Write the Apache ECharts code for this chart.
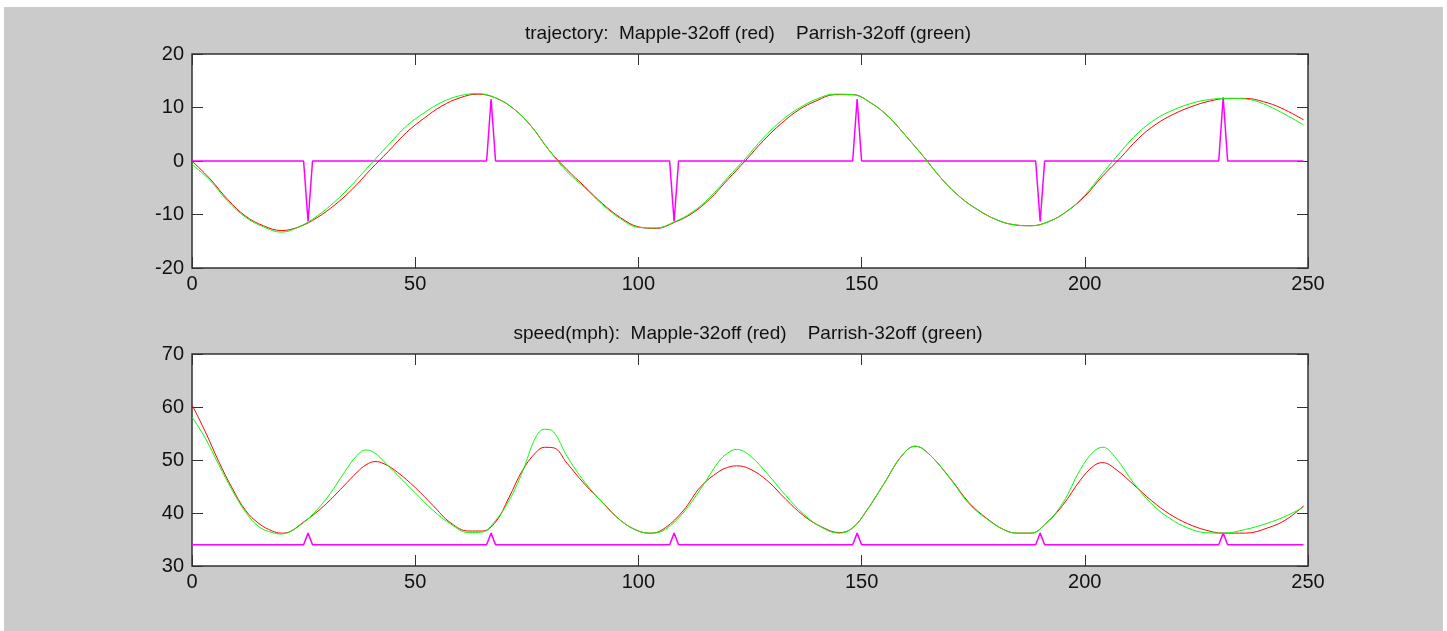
<!DOCTYPE html>
<html>
<head>
<meta charset="utf-8">
<script src="https://cdn.jsdelivr.net/npm/echarts@6/dist/echarts.min.js"></script>
<style>
html,body{margin:0;padding:0;background:#fff;}
#chart{width:1447px;height:631px;}
</style>
</head>
<body>
<div id="chart"></div>
<script>
// ---- titles / ticks ----
const trajTitle = 'trajectory:  Mapple-32off (red)    Parrish-32off (green)';
const speedTitle = 'speed(mph):  Mapple-32off (red)    Parrish-32off (green)';
const xTicks = [0, 50, 100, 150, 200, 250];
const trajTicks = [-20, -10, 0, 10, 20];
const speedTicks = [30, 40, 50, 60, 70];

// ---- trajectory (top) ----
const trajX = [0,4,8,12,16,20,24,28,32,36,40,44,48,52,56,60,64,68,72,76,80,84,88,92,96,100,104,108,112,116,120,124,128,132,136,140,144,148,152,156,160,164,168,172,176,180,184,188,192,196,200,204,208,212,216,220,224,228,232,236,240,244,249];
const trajGreen = [-0.6,-3.6,-7.5,-10.5,-12.3,-13.3,-12.3,-10.3,-7.6,-4.3,-0.6,3.0,6.5,9.0,11.0,12.2,12.6,11.8,9.8,6.5,2.0,-2.0,-5.0,-8.2,-10.8,-12.4,-12.5,-11.4,-9.6,-6.8,-3.1,0.5,4.3,7.5,9.9,11.6,12.5,12.4,10.9,8.3,4.6,0.7,-3.4,-6.7,-9.1,-10.9,-11.9,-12.1,-11.3,-9.4,-6.4,-2.3,1.7,5.3,7.9,9.6,10.8,11.5,11.7,11.6,10.7,9.1,6.75];
const trajRed = [0,-3.3,-7.2,-10.3,-12.1,-13.0,-12.3,-10.6,-8.2,-5.2,-1.6,1.8,5.3,8.0,10.3,11.8,12.5,11.8,9.8,6.5,2.0,-1.6,-4.8,-8.0,-10.6,-12.3,-12.6,-11.5,-9.8,-7.1,-3.5,0.1,3.8,7.0,9.6,11.3,12.4,12.4,10.9,8.3,4.6,0.7,-3.4,-6.7,-9.1,-10.9,-11.9,-12.1,-11.3,-9.4,-6.6,-2.8,0.6,4.2,6.9,8.8,10.2,11.2,11.7,11.7,11.1,9.9,7.7];
// magenta event markers
const eventIdx = [26, 67, 108, 149, 190, 231];
const trajEventVal = [-11.3, 11.6, -11.3, 11.6, -11.3, 11.9];
const trajBase = 0;

// ---- speed (bottom) ----
const speedX = [0,3,6,9,12,15,18,20,22,25,28,31,34,37,39,41,43,46,50,54,58,62,65,68,71,74,77,79,81,84,88,92,96,100,103,106,110,114,118,120,122,125,129,133,137,141,145,148,151,155,159,162,165,170,174,178,182,185,188,191,195,199,202,204,207,211,215,219,223,227,231,236,241,245,249];
const speedGreen = [58.1,54.1,49.1,44.3,40.2,37.4,36.3,36.05,36.5,38.2,40.6,43.7,47.5,50.9,51.9,51.3,49.7,47.2,43.8,40.5,37.9,36.3,36.4,38.6,42.3,47.7,54.3,55.8,55.3,50.7,45.8,41.9,38.6,36.6,36.2,36.9,40.0,44.6,49.7,51.3,52.0,50.8,47.3,43.3,39.8,37.3,36.2,37.2,40.3,45.5,50.8,52.6,51.2,46.3,41.8,38.9,36.8,36.2,36.2,37.8,41.8,48.2,51.6,52.4,50.3,45.6,41.7,39.0,37.2,36.3,36.2,36.9,38.1,39.4,41.1];
const speedRed = [60.4,55.3,49.7,44.7,40.5,38.0,36.6,36.2,36.5,38.3,40.2,42.5,45.1,47.7,49.1,49.7,49.3,47.7,44.8,41.4,38.1,36.6,36.6,38.3,42.9,48.0,51.4,52.4,52.3,49.4,45.4,42.0,38.6,36.6,36.2,37.2,40.4,45.0,47.8,48.6,48.9,48.3,46.0,42.6,39.5,37.4,36.3,37.2,40.3,45.5,50.8,52.6,51.2,46.4,42.0,39.0,36.8,36.2,36.2,37.8,41.4,46.2,48.9,49.5,48.2,45.3,42.3,39.8,38.0,36.8,36.2,36.2,37.2,38.7,41.3];
const speedEventVal = [36.2, 36.2, 36.2, 36.2, 36.2, 36.2];
const speedBase = 34;
const xEnd = 249;

// ---- build ----
function pairs(xs, ys) { return xs.map((x, i) => [x, ys[i]]); }
function eventLine(idx, vals, base) {
  const out = [[0, base]];
  idx.forEach((k, i) => { out.push([k - 1, base], [k, vals[i]], [k + 1, base]); });
  out.push([xEnd, base]);
  return out;
}

const FONT = '"Liberation Sans", Arial, sans-serif';
const axisCol = '#333';
const grids = [
  {left: 192, top: 54, width: 1116, height: 214},
  {left: 192, top: 354, width: 1116, height: 212}
];
const yRanges = [trajTicks, speedTicks];

const xAxis = [], yAxis = [];
grids.forEach((g, gi) => {
  [false, true].forEach(mirror => {
    xAxis.push({
      type: 'value', gridIndex: gi, min: xTicks[0], max: xTicks[xTicks.length - 1], interval: 50,
      position: mirror ? 'top' : 'bottom',
      axisLine: {show: false, onZero: false},
      axisTick: {show: true, inside: true, length: 11, lineStyle: {color: axisCol, width: 1}},
      axisLabel: {show: !mirror, color: '#111', fontSize: 20, fontFamily: FONT, margin: 6},
      splitLine: {show: false}
    });
    const t = yRanges[gi];
    yAxis.push({
      type: 'value', gridIndex: gi, min: t[0], max: t[t.length - 1], interval: 10,
      position: mirror ? 'right' : 'left',
      axisLine: {show: false, onZero: false},
      axisTick: {show: true, inside: true, length: 11, lineStyle: {color: axisCol, width: 1}},
      axisLabel: {show: !mirror, color: '#111', fontSize: 20, fontFamily: FONT, margin: 8},
      splitLine: {show: false}
    });
  });
});

function line(gi, data, color, smooth, width, z) {
  return {
    type: 'line', xAxisIndex: gi * 2, yAxisIndex: gi * 2, data: data,
    showSymbol: false, smooth: smooth, animation: false, silent: true,
    lineStyle: {color: color, width: width}, z: z
  };
}

const option = {
  animation: false,
  backgroundColor: '#fff',
  graphic: [
    {type: 'rect', shape: {x: 4, y: 7, width: 1439, height: 624}, style: {fill: '#cbcbcb'}, z: -10, silent: true},
    {type: 'text', x: 748, y: 34, style: {text: trajTitle, font: '19px ' + FONT, fill: '#111', textAlign: 'center', textVerticalAlign: 'middle'}},
    {type: 'text', x: 748, y: 334, style: {text: speedTitle, font: '19px ' + FONT, fill: '#111', textAlign: 'center', textVerticalAlign: 'middle'}}
  ],
  grid: grids.map(g => Object.assign({show: true, backgroundColor: '#fff', borderColor: axisCol, borderWidth: 1.5}, g)),
  xAxis: xAxis,
  yAxis: yAxis,
  series: [
    line(0, eventLine(eventIdx, trajEventVal, trajBase), '#ff00ff', false, 1.5, 3),
    line(0, pairs(trajX, trajRed), '#ff0000', 0.4, 1, 4),
    line(0, pairs(trajX, trajGreen), '#00ff00', 0.4, 1, 5),
    line(1, eventLine(eventIdx, speedEventVal, speedBase), '#ff00ff', false, 1.5, 3),
    line(1, pairs(speedX, speedRed), '#ff0000', 0.4, 1, 4),
    line(1, pairs(speedX, speedGreen), '#00ff00', 0.4, 1, 5)
  ]
};

const chart = echarts.init(document.getElementById('chart'), null, {renderer: 'canvas'});
chart.setOption(option);
</script>
</body>
</html>
